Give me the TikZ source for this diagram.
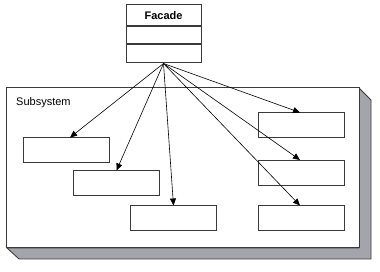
\documentclass[tikz,border=0pt]{standalone}
\usepackage{fontspec}
\setmainfont{Liberation Sans}
\usepackage{tikz}
\usetikzlibrary{arrows.meta,positioning}
\definecolor{sidegray}{HTML}{A4A4AC}
\definecolor{edgegray}{HTML}{3A3A3A}

\begin{document}
\begin{tikzpicture}[x=1pt, y=-1pt,
  every node/.style={font=\fontsize{11}{13}\selectfont},
  >={Triangle[length=7pt, width=6pt]},
  cls/.style={draw=edgegray, line width=1pt, fill=white, minimum width=86pt, minimum height=25pt, inner sep=0pt},
  row/.style={draw=edgegray, line width=1pt, fill=white, minimum width=75pt, inner sep=0pt},
  link/.style={->, line width=0.6pt}]
  \useasboundingbox (0,0) rectangle (380,272);
  % package with its shaded side
  \fill[sidegray, draw=edgegray, line width=0.8pt] (359,88) -- (371,100) -- (371,259) -- (19,259) -- (7,248) -- (359,248) -- cycle;
  \node[draw=edgegray, line width=1pt, fill=white, minimum width=353pt, minimum height=160pt, inner sep=0pt] (subsys) at (182.5,168) {};
  \node[anchor=north west, inner sep=0pt] (sublabel) at (16,97) {Subsystem};
  % facade class
  \node[row, minimum height=21pt] (facade) at (163.5,15.5) {\textbf{Facade}};
  \node[row, minimum height=17pt, below=0pt of facade] (attrs) {};
  \node[row, minimum height=18pt, below=0pt of attrs] (ops) {};
  % subsystem classes
  \node[cls] (boxa) at (66,150.5) {};
  \node[cls] (boxb) at (116.5,183.5) {};
  \node[cls] (boxc) at (173.5,218.5) {};
  \node[cls] (boxd) at (301.5,125.5) {};
  \node[cls] (boxe) at (301.5,173) {};
  \node[cls] (boxf) at (301.5,218.5) {};
  % delegation
  \draw[link] (ops.south) -- ([xshift=4pt]boxa.north);
  \draw[link] (ops.south) -- (boxb.north);
  \draw[link] (ops.south) -- (boxc.north);
  \draw[link] (ops.south) -- ([xshift=-1.5pt]boxd.north);
  \draw[link] (ops.south) -- ([xshift=-1.5pt]boxe.north);
  \draw[link] (ops.south) -- ([xshift=-1.5pt]boxf.north);
\end{tikzpicture}
\end{document}
